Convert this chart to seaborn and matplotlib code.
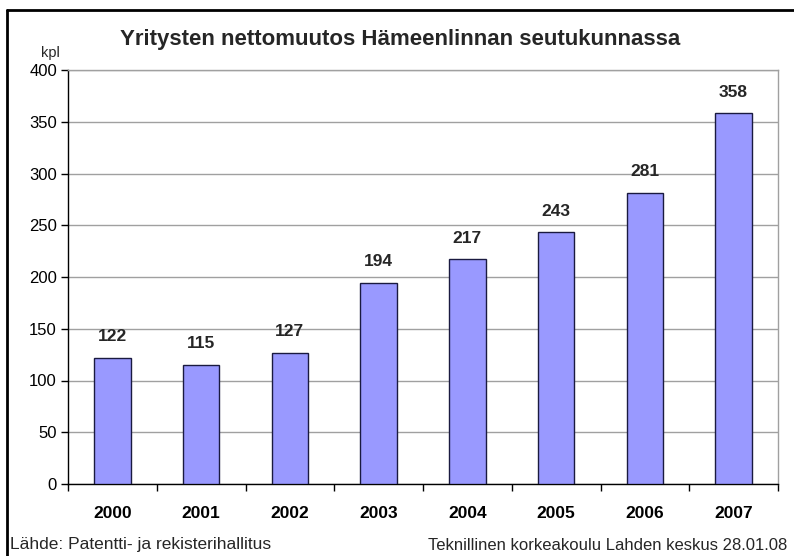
import matplotlib
matplotlib.use("Agg")
import matplotlib.pyplot as plt
import seaborn as sns
import pandas as pd
import numpy as np

years = ["2000", "2001", "2002", "2003", "2004", "2005", "2006", "2007"]
values = [122, 115, 127, 194, 217, 243, 281, 358]
title = "Yritysten nettomuutos Hämeenlinnan seutukunnassa"
source_left = "Lähde: Patentti- ja rekisterihallitus"
source_right = "Teknillinen korkeakoulu Lahden keskus 28.01.08"

sns.set_theme(style="white")
plt.rcParams['font.family'] = ['Liberation Sans', 'DejaVu Sans']

W, H = 794, 556
fig = plt.figure(figsize=(W / 100, H / 100), dpi=100)
ax = fig.add_axes([68 / W, 1 - 484 / H, (778 - 68) / W, (484 - 70) / H])

df = pd.DataFrame({"year": years, "value": values})
sns.barplot(data=df, x="year", y="value", ax=ax, color="#9999FF",
            saturation=1, width=0.41, edgecolor="#1a1a40", linewidth=1.0, zorder=3)

ax.set_ylim(0, 400)
ax.set_xlim(-0.5, len(years) - 0.5)
ax.set_yticks(np.arange(0, 401, 50))
ax.yaxis.grid(True, color="#a0a0a0", linewidth=1.0, zorder=0)
ax.set_axisbelow(True)
ax.set_xlabel("")
ax.set_ylabel("")

for side in ["top", "right"]:
    ax.spines[side].set_visible(True)
    ax.spines[side].set_color("#a0a0a0")
    ax.spines[side].set_linewidth(1.0)
for side in ["left", "bottom"]:
    ax.spines[side].set_color("black")
    ax.spines[side].set_linewidth(1.0)

ax.tick_params(axis="y", which="major", left=True, direction="out", length=5,
               width=1, color="black", labelsize=12, pad=3, labelcolor="black")
ax.tick_params(axis="x", which="major", bottom=False, labelsize=12.5, pad=10,
               labelcolor="black")
ax.set_xticks(np.arange(-0.5, len(years), 1.0), minor=True)
ax.tick_params(axis="x", which="minor", bottom=True, direction="out", length=5,
               width=1, color="black")
for lab in ax.get_xticklabels():
    lab.set_fontweight("bold")

for i, v in enumerate(values):
    ax.annotate(str(v), (i, v), xytext=(0, 10), textcoords="offset points",
                ha="center", va="bottom", fontsize=12.5, fontweight="bold")

fig.text(400 / W, 1 - 39 / H, title, ha="center", va="center",
         fontsize=16, fontweight="bold")
fig.text(50 / W, 1 - 53 / H, "kpl", ha="center", va="center", fontsize=10.5)
fig.text(10 / W, 1 - 545 / H, source_left, ha="left", va="center", fontsize=12.5)
fig.text(787 / W, 1 - 545 / H, source_right, ha="right", va="center", fontsize=12)

# figure frame lines (top and left)
fig.add_artist(plt.Line2D([7 / W, 1.0], [1 - 10 / H, 1 - 10 / H], color="black",
                          linewidth=2, transform=fig.transFigure))
fig.add_artist(plt.Line2D([7 / W, 7 / W], [0, 1 - 10 / H], color="black",
                          linewidth=2, transform=fig.transFigure))

fig.savefig("out.png", dpi=100, facecolor="white")
